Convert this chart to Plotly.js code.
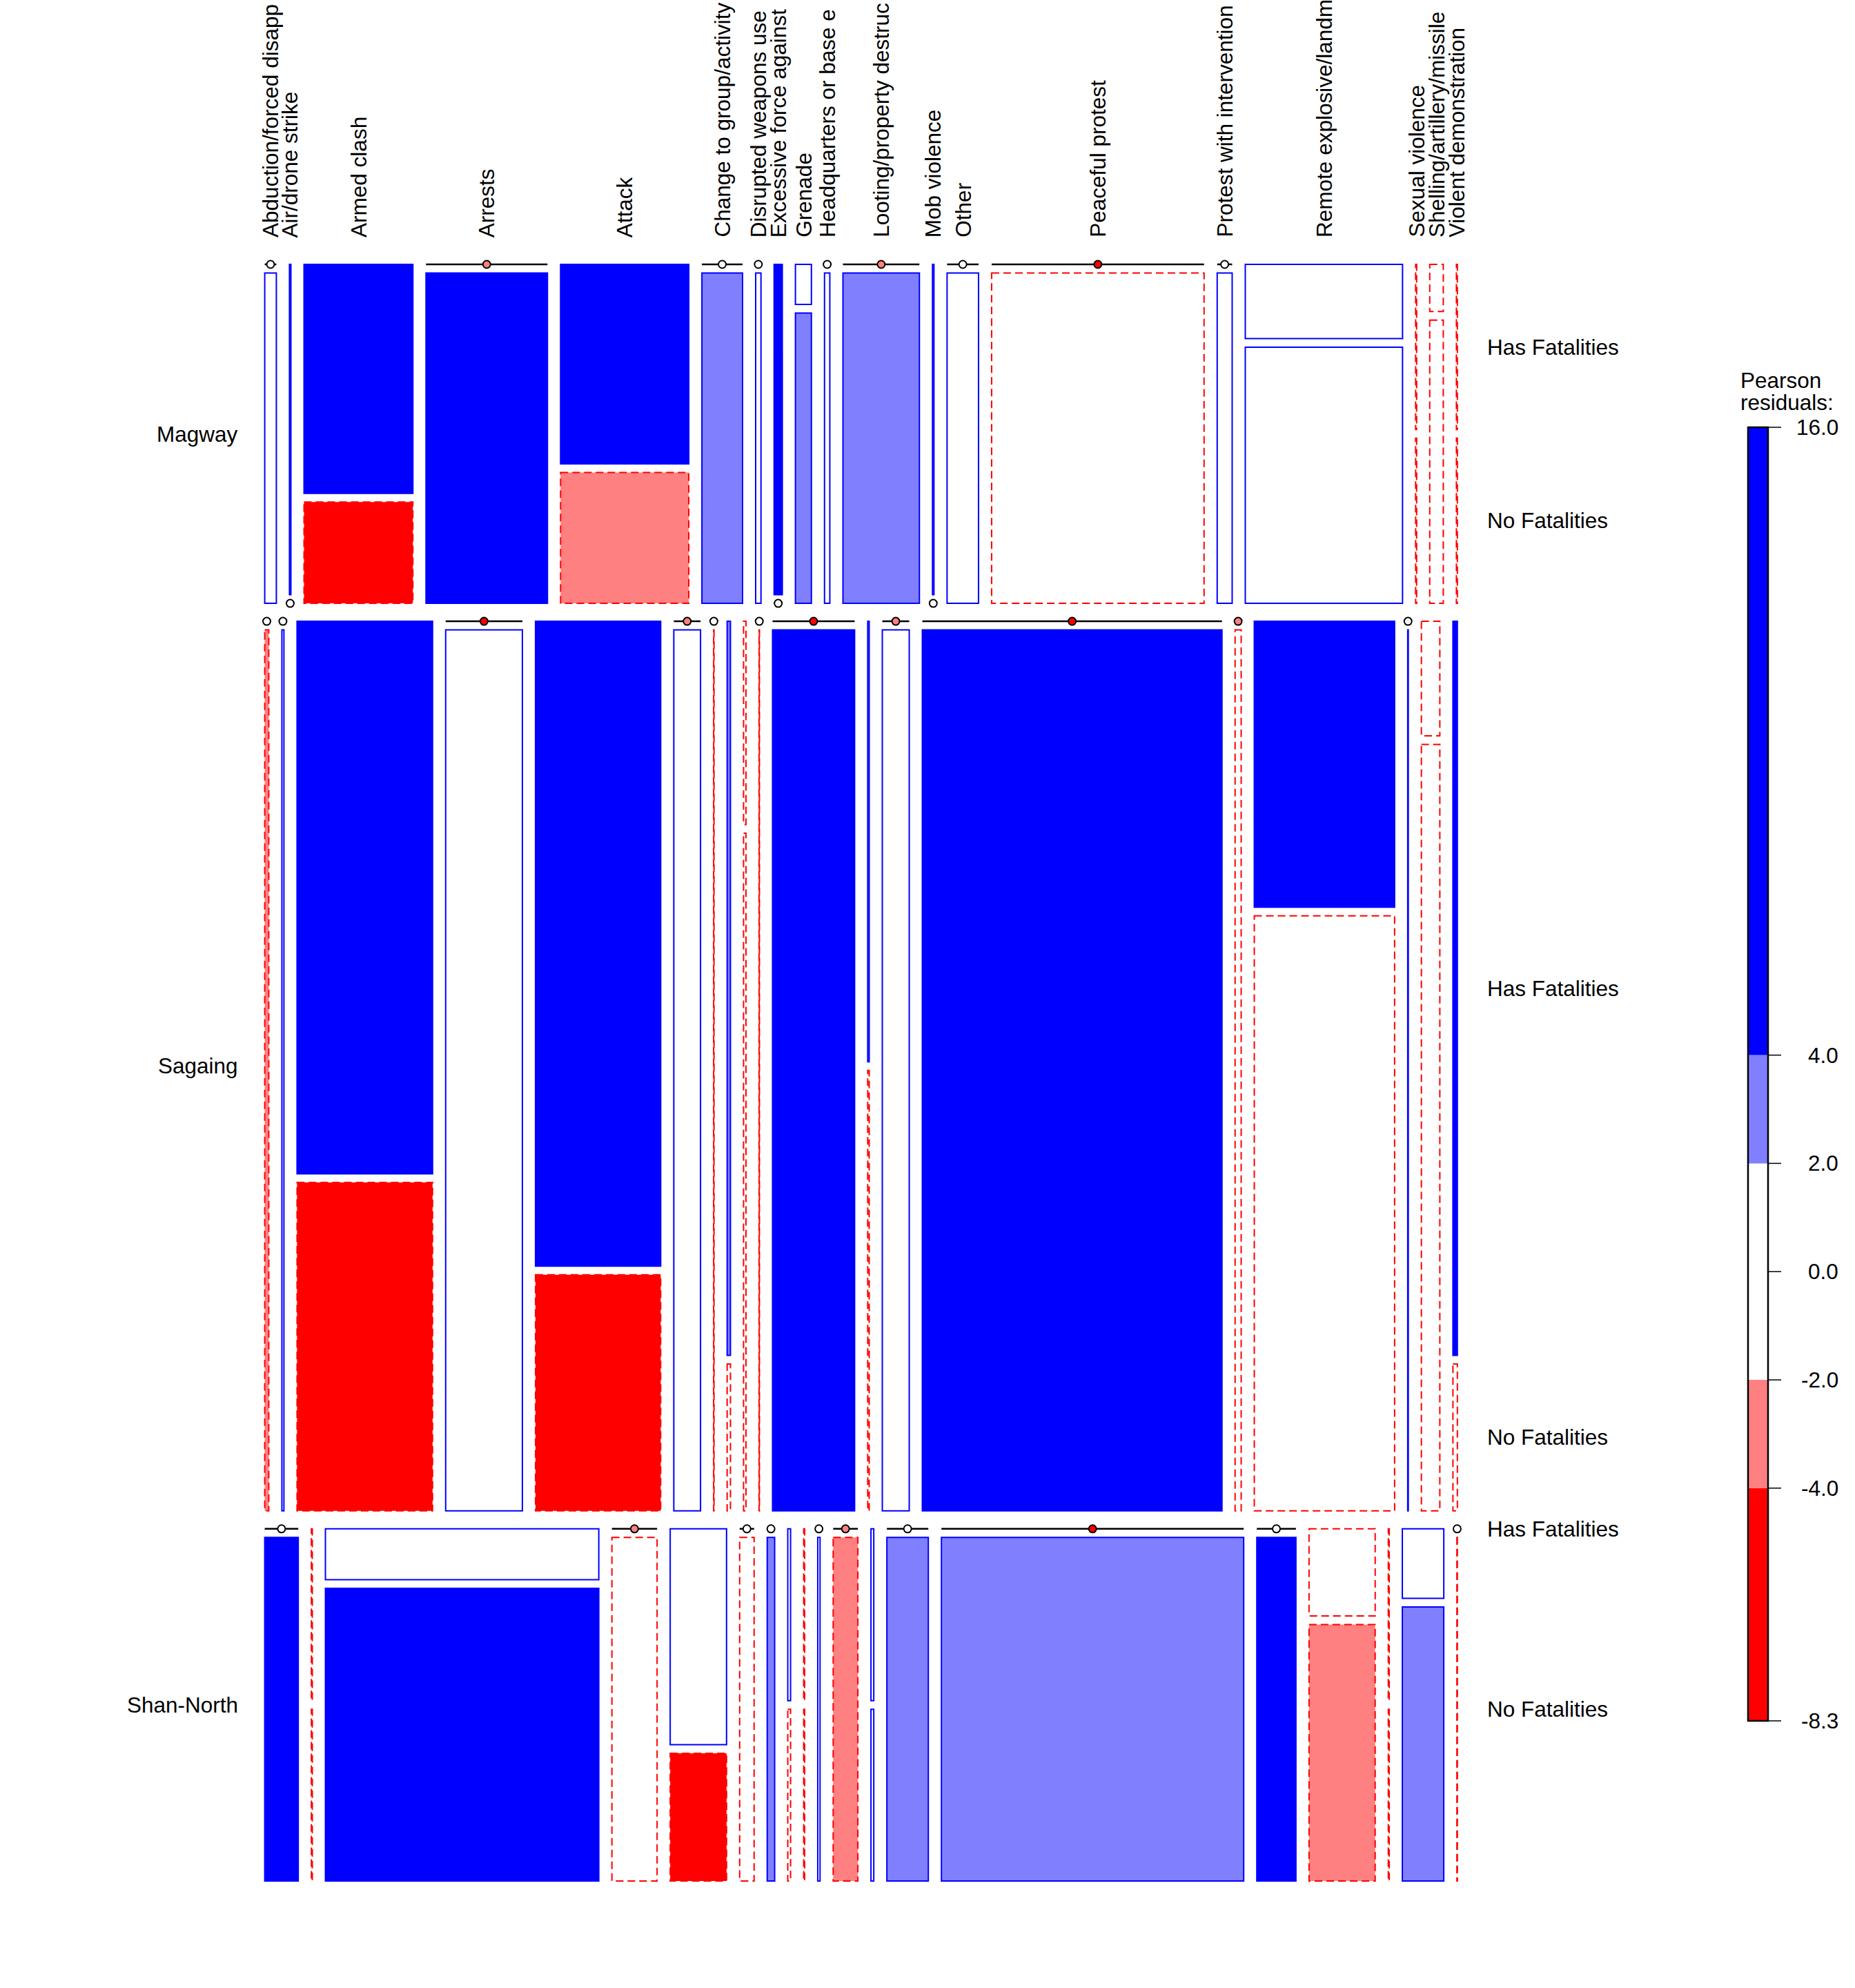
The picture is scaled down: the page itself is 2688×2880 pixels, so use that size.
<!DOCTYPE html>
<html>
<head>
<meta charset="utf-8">
<script src="https://cdn.plot.ly/plotly-3.0.1.min.js"></script>
<style>
html, body { margin: 0; padding: 0; background: #ffffff; }
#chart { width: 2688px; height: 2880px; }
</style>
</head>
<body>
<div id="chart"></div>
<script>
// ---------------- data ----------------
const regions = ['Magway', 'Sagaing', 'Shan-North'];
const fatalityLevels = ['Has Fatalities', 'No Fatalities'];
const eventTypes = [
  'Abduction/forced disappearance', 'Air/drone strike', 'Armed clash', 'Arrests', 'Attack',
  'Change to group/activity', 'Disrupted weapons use', 'Excessive force against protesters',
  'Grenade', 'Headquarters or base established', 'Looting/property destruction', 'Mob violence',
  'Other', 'Peaceful protest', 'Protest with intervention', 'Remote explosive/landmine/IED',
  'Sexual violence', 'Shelling/artillery/missile attack', 'Violent demonstration'
];
// column labels as far as they are visible in the picture (cut by the top edge)
const eventTickLabels = [
  'Abduction/forced disapp', 'Air/drone strike', 'Armed clash', 'Arrests', 'Attack',
  'Change to group/activity', 'Disrupted weapons use', 'Excessive force against',
  'Grenade', 'Headquarters or base e', 'Looting/property destruc', 'Mob violence',
  'Other', 'Peaceful protest', 'Protest with intervention', 'Remote explosive/landm',
  'Sexual violence', 'Shelling/artillery/missile', 'Violent demonstration'
];

// estimated counts (event type order as above)
const magwayHas    = [0, 3, 156, 0, 160, 0, 0, 17, 4, 0, 0, 3, 0, 0, 0, 73, 1, 4, 1];
const magwayNo     = [24, 0, 69, 251, 105, 84, 11, 0, 29, 11, 158, 0, 65, 439, 31, 252, 1, 24, 1];
const sagaingHas   = [0, 0, 461, 0, 497, 0, 0, 15, 3, 0, 0, 4, 0, 0, 0, 247, 0, 13, 20];
const sagaingNo    = [22, 11, 274, 416, 182, 145, 2, 3, 10, 2, 445, 4, 146, 1625, 33, 514, 3, 87, 4];
const shanNorthHas = [0, 1, 87, 0, 76, 0, 0, 3, 1, 0, 0, 3, 0, 0, 0, 36, 1, 18, 0];
const shanNorthNo  = [72, 1, 500, 97, 45, 31, 16, 3, 1, 5, 53, 3, 89, 649, 84, 106, 1, 71, 1];

// estimated Pearson residuals
const magwayResHas    = [-1.0, 1.2, 6.5, -3.5, 5.2, -1.8, -0.7, 4.6, 0.4, -0.7, -2.9, 1.5, -1.6, -5.1, -1.1, 1.3, -0.3, -0.9, -0.3];
const magwayResNo     = [0.8, -0.6, -5.0, 5.8, -3.1, 2.6, 0.5, -0.9, 2.3, 0.5, 3.3, -0.4, 1.1, -1.2, 0.7, 0.4, -0.5, -1.4, -0.5];
const sagaingResHas   = [-1.5, -1.3, 9.8, -6.7, 11.2, -3.8, -0.4, 2.7, -0.2, -0.5, -6.3, 1.0, -3.6, -7.9, -2.3, 8.1, -0.6, -1.0, 4.4];
const sagaingResNo    = [-2.4, 0.3, -8.3, 1.6, -6.9, 1.4, -0.6, -1.7, -0.9, -0.7, 7.4, -0.4, 1.3, 15.6, -0.8, -1.9, 0.2, -1.8, -1.6];
const shanNorthResHas = [-1.9, -0.2, 0.6, -3.0, 1.9, -1.7, -1.2, 0.5, -0.2, -0.8, -2.2, 0.9, -1.9, -5.3, -1.8, -0.8, -0.2, 0.9, -0.7];
const shanNorthResNo  = [4.9, -0.4, 8.9, -0.9, -4.6, -0.3, 2.1, -0.3, -0.4, 0.6, -2.6, 0.2, 2.5, 3.6, 4.3, -2.7, -0.5, 2.8, -0.5];

const legendBreaks = [-4, -2, 2, 4];
const legendInnerTicks = [4, 2, 0, -2, -4];

// ---------------- layout constants (pixels) ----------------
const FIG_W = 2688, FIG_H = 2880;
const PLOT_LEFT = 383.6, PLOT_RIGHT = 2111.8, PLOT_TOP = 383, PLOT_BOTTOM = 2725;
const REGION_GAP_PX = 26, EVENT_GAP_PX = 19, FATAL_GAP_PX = 12.5;
const PAD = 30;
const LEG_LEFT = 2533, LEG_RIGHT = 2562, LEG_TICK = 19, LEG_TOP = 619, LEG_BOTTOM = 2493;
const FONT = 'Liberation Sans, Arial, Helvetica, sans-serif';
const FS = 31.5;

const BLUE = '#0000FF', LBLUE = '#8080FF', PINK = '#FF8080', RED = '#FF0000', WHITE = '#FFFFFF';
function fillFor(r) {
  if (r > 4) return BLUE;
  if (r > 2) return LBLUE;
  if (r > -2) return WHITE;
  if (r > -4) return PINK;
  return RED;
}

// ---------------- mosaic geometry ----------------
const regionHas = [magwayHas, sagaingHas, shanNorthHas];
const regionNo = [magwayNo, sagaingNo, shanNorthNo];
const regionResHas = [magwayResHas, sagaingResHas, shanNorthResHas];
const regionResNo = [magwayResNo, sagaingResNo, shanNorthResNo];

const sum = a => a.reduce((s, v) => s + v, 0);
const totals = regions.map((_, r) => sum(regionHas[r]) + sum(regionNo[r]));
const grand = sum(totals);
const nE = eventTypes.length;

const plotW = PLOT_RIGHT - PLOT_LEFT, plotH = PLOT_BOTTOM - PLOT_TOP;
const xGap = EVENT_GAP_PX / plotW;
const yGap = REGION_GAP_PX / plotH;
const fGap = FATAL_GAP_PX / plotH;

const shapes = [];
const zeroX = [], zeroY = [], zeroColor = [];
const regionCenters = [], topCenters = [], fatalLabelY = [];

const usableY = 1 - (regions.length - 1) * yGap;
let yc = 0;
regions.forEach((reg, r) => {
  const rh = usableY * totals[r] / grand;
  const top = yc, bottom = yc + rh;
  regionCenters.push((top + bottom) / 2);
  const usableX = 1 - (nE - 1) * xGap;
  let xc = 0;
  for (let e = 0; e < nE; e++) {
    const h = regionHas[r][e], n0 = regionNo[r][e], n = h + n0;
    const w = usableX * n / totals[r];
    const x0 = xc, x1 = xc + w;
    if (r === 0) topCenters.push((x0 + x1) / 2);
    const cellH = rh - fGap;
    const hasBottom = n > 0 ? top + cellH * h / n : top;
    const cells = [
      { count: h, res: regionResHas[r][e], y0: top, y1: hasBottom, zy: top },
      { count: n0, res: regionResNo[r][e], y0: hasBottom + fGap, y1: bottom, zy: bottom }
    ];
    cells.forEach(c => {
      if (c.count > 0) {
        const pos = c.res >= 0;
        shapes.push({
          type: 'rect', xref: 'x', yref: 'y', layer: 'below',
          x0: x0, x1: x1, y0: c.y0, y1: c.y1,
          fillcolor: fillFor(c.res),
          line: { color: pos ? BLUE : RED, width: 2, dash: pos ? 'solid' : '11px,6px' }
        });
      } else {
        shapes.push({
          type: 'line', xref: 'x', yref: 'y', layer: 'below',
          x0: x0, x1: x1, y0: c.zy, y1: c.zy,
          line: { color: '#000000', width: 2.5 }
        });
        zeroX.push((x0 + x1) / 2);
        zeroY.push(c.zy);
        zeroColor.push(fillFor(c.res));
      }
    });
    if (e === nE - 1) fatalLabelY.push(cells.map(c => c.count > 0 ? (c.y0 + c.y1) / 2 : c.zy));
    xc = x1 + xGap;
  }
  yc = bottom + yGap;
});

// ---------------- legend ----------------
const resAll = [].concat(...regionResHas, ...regionResNo);
const resMin = Math.min(...resAll), resMax = Math.max(...resAll);
const bandEdges = [resMin, ...legendBreaks, resMax];
const bandBase = [], bandLen = [], bandColor = [];
for (let i = 0; i < bandEdges.length - 1; i++) {
  bandBase.push(bandEdges[i]);
  bandLen.push(bandEdges[i + 1] - bandEdges[i]);
  bandColor.push(fillFor((bandEdges[i] + bandEdges[i + 1]) / 2));
}
const legendTicks = [resMax, ...legendInnerTicks, resMin];
const fmt = v => Number(v.toPrecision(2)).toFixed(1);

const legW = LEG_RIGHT - LEG_LEFT;
shapes.push({
  type: 'rect', xref: 'x2', yref: 'y2', layer: 'above',
  x0: 0, x1: 1, y0: resMin, y1: resMax,
  fillcolor: 'rgba(0,0,0,0)', line: { color: '#000000', width: 2.5 }
});
legendTicks.forEach(v => {
  shapes.push({
    type: 'line', xref: 'x2', yref: 'y2', layer: 'above',
    x0: 1, x1: 1 + LEG_TICK / legW, y0: v, y1: v,
    line: { color: '#000000', width: 1.5 }
  });
});

// ---------------- annotations ----------------
const annotations = [];
eventTickLabels.forEach((t, e) => {
  annotations.push({
    text: t, x: topCenters[e], xref: 'x', y: 1 - 346 / FIG_H, yref: 'paper',
    textangle: -90, xanchor: 'center', yanchor: 'bottom', showarrow: false,
    font: { family: FONT, size: FS, color: '#000' }
  });
});
regions.forEach((reg, r) => {
  annotations.push({
    text: reg, x: 347 / FIG_W, xref: 'paper', y: regionCenters[r], yref: 'y',
    xanchor: 'right', yanchor: 'middle', showarrow: false,
    font: { family: FONT, size: FS, color: '#000' }
  });
  fatalityLevels.forEach((lev, k) => {
    annotations.push({
      text: lev, x: 2153 / FIG_W, xref: 'paper', y: fatalLabelY[r][k], yref: 'y',
      xanchor: 'left', yanchor: 'middle', showarrow: false,
      font: { family: FONT, size: FS, color: '#000' }
    });
  });
});
[['Pearson', 551], ['residuals:', 583]].forEach(([t, py]) => {
  annotations.push({
    text: t, x: 2520 / FIG_W, xref: 'paper', y: 1 - py / FIG_H, yref: 'paper',
    xanchor: 'left', yanchor: 'middle', showarrow: false,
    font: { family: FONT, size: FS, color: '#000' }
  });
});
legendTicks.forEach(v => {
  annotations.push({
    text: fmt(v), x: 2666 / FIG_W, xref: 'paper', y: v, yref: 'y2',
    xanchor: 'right', yanchor: 'middle', showarrow: false,
    font: { family: FONT, size: FS, color: '#000' }
  });
});

// ---------------- axes ----------------
const xDomain = [(PLOT_LEFT - PAD) / FIG_W, (PLOT_RIGHT + PAD) / FIG_W];
const xRange = [-PAD / plotW, 1 + PAD / plotW];
const yDomain = [1 - (PLOT_BOTTOM + PAD) / FIG_H, 1 - (PLOT_TOP - PAD) / FIG_H];
const yRange = [1 + PAD / plotH, -PAD / plotH];

const legUpp = (resMax - resMin) / (LEG_BOTTOM - LEG_TOP);
const y2Domain = [1 - (LEG_BOTTOM + PAD) / FIG_H, 1 - (LEG_TOP - PAD) / FIG_H];
const y2Range = [resMin - PAD * legUpp, resMax + PAD * legUpp];
const x2Domain = [(LEG_LEFT - PAD) / FIG_W, (LEG_RIGHT + LEG_TICK + PAD) / FIG_W];
const x2Range = [-PAD / legW, 1 + (LEG_TICK + PAD) / legW];

const hidden = { visible: false, showgrid: false, zeroline: false, fixedrange: true };

const traces = [
  {
    type: 'bar', xaxis: 'x2', yaxis: 'y2',
    x: bandBase.map(() => 0.5), y: bandLen, base: bandBase, width: 1,
    marker: { color: bandColor, line: { width: 0 } },
    hoverinfo: 'skip', showlegend: false
  },
  {
    type: 'scatter', mode: 'markers', x: zeroX, y: zeroY, cliponaxis: false,
    marker: { size: 11, color: zeroColor, line: { color: '#000000', width: 2 } },
    hoverinfo: 'skip', showlegend: false
  }
];

const layout = {
  width: FIG_W, height: FIG_H,
  margin: { l: 0, r: 0, t: 0, b: 0, pad: 0 },
  paper_bgcolor: '#ffffff', plot_bgcolor: 'rgba(0,0,0,0)',
  font: { family: FONT, size: FS, color: '#000' },
  showlegend: false, hovermode: false, barmode: 'overlay',
  xaxis: Object.assign({ domain: xDomain, range: xRange, anchor: 'y' }, hidden),
  yaxis: Object.assign({ domain: yDomain, range: yRange, anchor: 'x' }, hidden),
  xaxis2: Object.assign({ domain: x2Domain, range: x2Range, anchor: 'y2' }, hidden),
  yaxis2: Object.assign({ domain: y2Domain, range: y2Range, anchor: 'x2' }, hidden),
  shapes: shapes,
  annotations: annotations
};

Plotly.newPlot('chart', traces, layout, { staticPlot: true, displayModeBar: false });
</script>
</body>
</html>
